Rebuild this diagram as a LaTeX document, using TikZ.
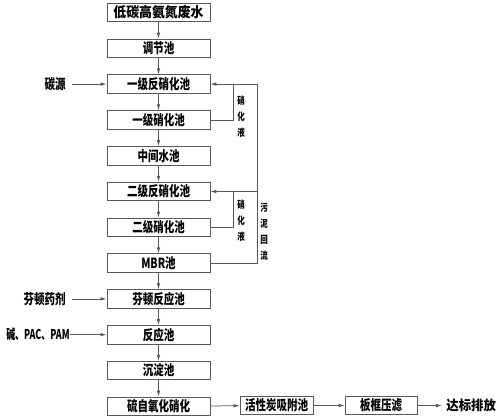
\documentclass[tikz,border=0pt]{standalone}
\usepackage{fontspec}
\newfontfamily\cjkn[FakeStretch=0.75]{Noto Sans CJK SC}
\newfontfamily\cjkw[FakeStretch=0.92]{Noto Sans CJK SC}
\newfontfamily\cjkx[FakeStretch=0.66]{Noto Sans CJK SC}
\usetikzlibrary{arrows.meta}
\begin{document}
\begin{tikzpicture}[x=1pt,y=-1pt,
  line width=0.75pt,
  lc/.style={draw=black!65},
  box/.style={lc, minimum width=103pt, minimum height=18.5pt, inner sep=0pt,
    font=\cjkn\bfseries\fontsize{14}{15}\selectfont},
  sbox/.style={box, minimum width=73pt},
  lbl/.style={inner sep=0pt, font=\cjkn\bfseries\fontsize{14}{15}\selectfont},
  vlbl/.style={inner sep=0pt, align=center, font=\cjkn\bfseries\fontsize{10}{16}\selectfont},
  arr/.style={lc, -{Latex[length=6pt,width=3.5pt]}},
  ln/.style={lc}
]
\useasboundingbox (0,0) rectangle (500,419);
\node[box, font=\cjkw\bfseries\fontsize{14}{15}\selectfont] (n1) at (158.5,12.5) {低碳高氨氮废水};
\node[box] (n2) at (158.5,48.3) {调节池};
\node[box] (n3) at (158.5,84.1) {一级反硝化池};
\node[box] (n4) at (158.5,119.9) {一级硝化池};
\node[box] (n5) at (158.5,155.7) {中间水池};
\node[box] (n6) at (158.5,191.5) {二级反硝化池};
\node[box] (n7) at (158.5,227.3) {二级硝化池};
\node[box] (n8) at (158.5,263.1) {MBR池};
\node[box] (n9) at (158.5,298.9) {芬顿反应池};
\node[box] (n10) at (158.5,334.7) {反应池};
\node[box] (n11) at (158.5,370.5) {沉淀池};
\node[box] (n12) at (158.5,406.3) {硫自氧化硝化};
\node[sbox] (b2) at (276.5,405.5) {活性炭吸附池};
\node[sbox, minimum width=72pt] (b3) at (381,405.5) {板框压滤};
\node[lbl, anchor=west, font=\cjkw\bfseries\fontsize{13.5}{15}\selectfont] (out) at (446,405.5) {达标排放};

\draw[arr] (n1) -- (n2);
\draw[arr] (n2) -- (n3);
\draw[arr] (n3) -- (n4);
\draw[arr] (n4) -- (n5);
\draw[arr] (n5) -- (n6);
\draw[arr] (n6) -- (n7);
\draw[arr] (n7) -- (n8);
\draw[arr] (n8) -- (n9);
\draw[arr] (n9) -- (n10);
\draw[arr] (n10) -- (n11);
\draw[arr] (n11) -- (n12);
\draw[arr] (n12) -- (b2);
\draw[arr] (b3.west -| b2.east) -- (b3);
\draw[arr] (out.west -| b3.east) -- ([xshift=-4pt]out.west) ;

\node[lbl, anchor=east] (c1) at (66,84.1) {碳源};
\node[lbl, anchor=east] (c2) at (66,298.9) {芬顿药剂};
\node[lbl, anchor=east, font=\cjkx\bfseries\fontsize{13.5}{15}\selectfont] (c3) at (70,334.7) {碱、PAC、PAM};
\draw[arr] ([xshift=6pt]c1.east) -- (n3);
\draw[arr] ([xshift=6pt]c2.east) -- (n9);
\draw[arr] (c3) -- (n10);

\coordinate (L) at (233,0);
\coordinate (R) at (257,0);
\draw[arr] (n8.east) -| (R |- n3.east) -- (n3.east);
\draw[arr] (R |- n6.east) -- (n6.east);
\draw[ln] (n4.east) -| (L |- n3.east);
\draw[ln] (n7.east) -| (L |- n6.east);

\node[vlbl] (v1) at (241,117) {硝\\化\\液};
\node[vlbl] (v2) at (241,221) {硝\\化\\液};
\node[vlbl] (v3) at (264,231.5) {污\\泥\\回\\流};
\end{tikzpicture}
\end{document}
